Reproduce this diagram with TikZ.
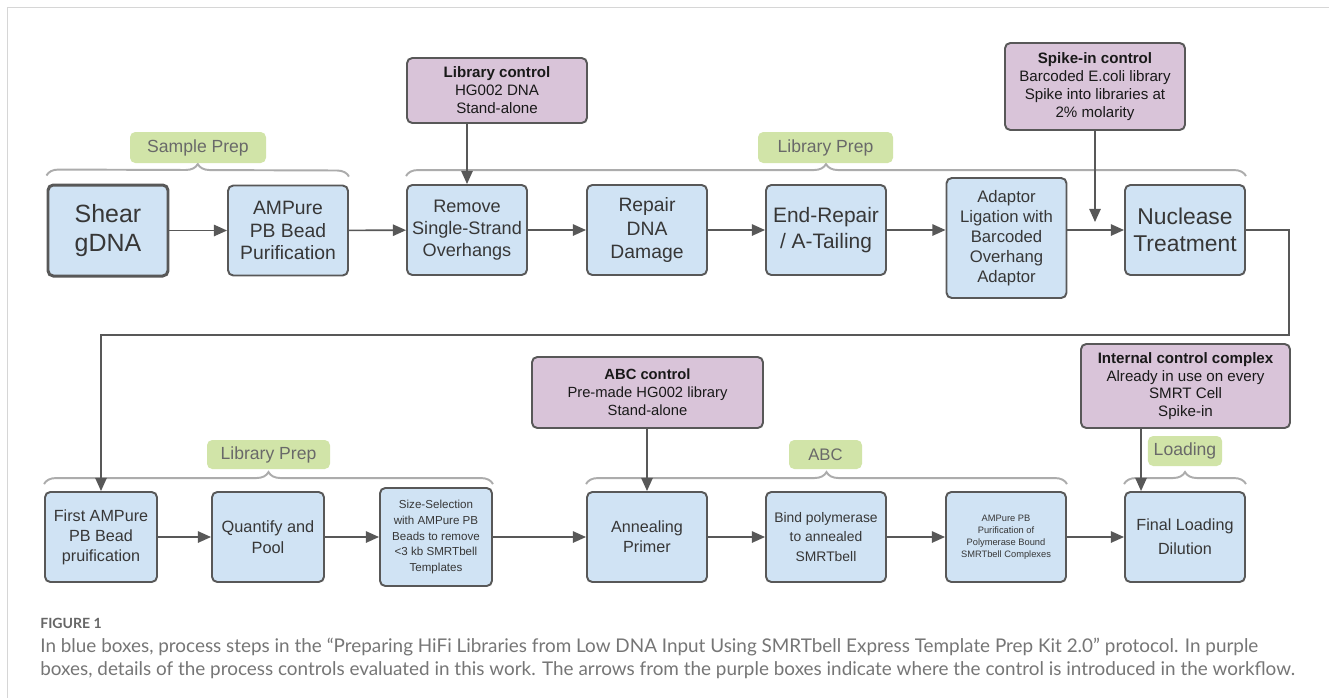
\documentclass[tikz,border=0pt]{standalone}
\usepackage{fontspec}
\setmainfont{Liberation Sans}
\newfontfamily\capfont{Lato}
\usepackage{tikz}
\usetikzlibrary{arrows.meta,positioning,calc,decorations.pathreplacing}
\usepackage{xcolor}
\definecolor{StepBlue}{RGB}{208,227,244}
\definecolor{CtrlPurple}{RGB}{217,196,217}
\definecolor{TagGreen}{RGB}{209,228,168}
\definecolor{EdgeGray}{RGB}{88,88,88}
\definecolor{BraceGray}{RGB}{172,172,172}
\definecolor{InkGray}{RGB}{55,55,55}
\definecolor{TagText}{RGB}{105,105,105}
\definecolor{FrameGray}{RGB}{214,214,214}
\definecolor{CapGray}{RGB}{118,118,118}
\newcommand{\setfs}[2]{\fontsize{#1}{#2}\selectfont}

\begin{document}
\begin{tikzpicture}[
  stepbox/.style={draw=EdgeGray,fill=StepBlue,rounded corners=3pt,line width=1.1pt,
        minimum width=2.4cm,minimum height=1.8cm,align=center,text=InkGray,inner sep=1pt},
  ctrlbox/.style={draw=EdgeGray,fill=CtrlPurple,rounded corners=3pt,line width=1.1pt,
        align=center,text=black!90,inner sep=1pt},
  tagbox/.style={fill=TagGreen,rounded corners=3pt,minimum height=0.62cm,text=TagText,
        font=\setfs{10}{12}},
  grpbrace/.style={draw=BraceGray,line width=1.1pt,decorate,decoration={brace,amplitude=0.24cm}},
  flow/.style={draw=EdgeGray,line width=0.9pt,-{Triangle[length=7.5pt,width=6.5pt]}}]
  \fill[white] (0,0) rectangle (26.58,-13.96);
  \useasboundingbox (0,0) rectangle (26.58,-13.96);
  \draw[FrameGray,line width=1.1pt] (26.58,-0.15) -| (0.15,-13.96);

  % top row of process steps
  \node[stepbox,line width=1.7pt,minimum height=1.82cm,font=\setfs{14.2}{17}] (shear) at (2.16,-4.61) {Shear\\gDNA};
  \node[stepbox,font=\setfs{11}{13}] (ampure) at (5.76,-4.61) {AMPure\\PB Bead\\Purification};
  \node[stepbox,font=\setfs{10.3}{12.5}] (remove) at (9.34,-4.6) {Remove\\Single-Strand\\Overhangs};
  \node[stepbox,font=\setfs{11}{13.6}] (repair) at (12.94,-4.6) {Repair\\DNA\\Damage};
  \node[stepbox,font=\setfs{11.9}{14.7}] (endrep) at (16.52,-4.6) {End-Repair\\/ A-Tailing};
  \node[stepbox,minimum height=2.4cm,font=\setfs{9.5}{11.3}] (adaptor) at (20.13,-4.76)
    {Adaptor\\Ligation with\\Barcoded\\Overhang\\Adaptor};
  \node[stepbox,font=\setfs{13}{15.5}] (nuclease) at (23.7,-4.6) {Nuclease\\Treatment};

  % bottom row of process steps
  \node[stepbox,minimum width=2.24cm,font=\setfs{9.2}{11.3}] (first) at (2.02,-10.74)
    {First AMPure\\PB Bead\\pruification};
  \node[stepbox,minimum width=2.24cm,font=\setfs{9.3}{11.7}] (quant) at (5.36,-10.74) {Quantify and\\Pool};
  \node[stepbox,minimum width=2.24cm,minimum height=1.96cm,font=\setfs{6.6}{9}] (size) at (8.72,-10.74)
    {Size-Selection\\with AMPure PB\\Beads to remove\\<3 kb SMRTbell\\Templates};
  \node[stepbox,font=\setfs{9.2}{11.2}] (anneal) at (12.94,-10.74) {Annealing\\Primer};
  \node[stepbox,font=\setfs{7.9}{11}] (bind) at (16.52,-10.74) {Bind polymerase\\to annealed\\SMRTbell};
  \node[stepbox,font=\setfs{5.3}{6.8}] (ampb) at (20.12,-10.74)
    {AMPure PB\\Purification of\\Polymerase Bound\\SMRTbell Complexes};
  \node[stepbox,font=\setfs{9.2}{13.6}] (final) at (23.7,-10.74) {Final Loading\\Dilution};

  % controls
  \node[ctrlbox,minimum width=3.6cm,minimum height=1.3cm,font=\setfs{8.6}{10.2}] (libctl) at (9.94,-1.81)
    {\textbf{Library control}\\HG002 DNA\\Stand-alone};
  \node[ctrlbox,minimum width=3.6cm,minimum height=1.74cm,font=\setfs{8.6}{10.2}] (spkctl) at (21.9,-1.73)
    {\textbf{Spike-in control}\\Barcoded E.coli library\\Spike into libraries at\\2\% molarity};
  \node[ctrlbox,minimum width=4.62cm,minimum height=1.42cm,font=\setfs{8.4}{10.2}] (abcctl) at (12.95,-7.85)
    {\textbf{ABC control}\\Pre-made HG002 library\\Stand-alone};
  \node[ctrlbox,minimum width=4.18cm,minimum height=1.68cm,font=\setfs{8.6}{10.1}] (intctl) at (23.71,-7.72)
    {\textbf{Internal control complex}\\Already in use on every\\SMRT Cell\\Spike-in};

  % phase braces and tags
  \draw[grpbrace] ([yshift=0.16cm]shear.north west) -- ([yshift=0.16cm]ampure.north east);
  \draw[grpbrace] ([yshift=0.16cm]remove.north west) -- ([yshift=0.16cm]nuclease.north east);
  \draw[grpbrace] ([yshift=0.14cm]first.north west) -- ([yshift=0.14cm]first.north west -| size.north east);
  \draw[grpbrace] ([yshift=0.14cm]anneal.north west) -- ([yshift=0.14cm]ampb.north east);
  \draw[grpbrace] ([yshift=0.14cm]final.north west) -- ([yshift=0.14cm]final.north east);
  \node[tagbox,minimum width=2.72cm] (tsample) at (3.96,-2.95) {Sample Prep};
  \node[tagbox,minimum width=2.7cm] (tlib) at (16.51,-2.95) {Library Prep};
  \node[tagbox,minimum width=2.46cm,minimum height=0.58cm] (tlib2) at (5.37,-9.09) {Library Prep};
  \node[tagbox,minimum width=1.46cm,minimum height=0.58cm,font=\setfs{9.5}{11}] (tabc) at (16.51,-9.09) {ABC};
  \node[tagbox,minimum width=1.48cm,minimum height=0.6cm] (tload) at (23.7,-9.02) {Loading};

  % workflow arrows
  \draw[flow] (shear) -- (ampure);
  \draw[flow] (ampure) -- (remove);
  \draw[flow] (remove) -- (repair);
  \draw[flow] (repair) -- (endrep);
  \draw[flow] (endrep.east) -- (endrep.east -| adaptor.west);
  \draw[flow] (adaptor.east |- nuclease.west) -- (nuclease.west);
  \coordinate (wrap) at (25.78,-6.7);
  \draw[flow] (nuclease.east) -| (wrap) -| (first.north);
  \draw[flow] (first) -- (quant);
  \draw[flow] (quant) -- (size);
  \draw[flow] (size) -- (anneal);
  \draw[flow] (anneal) -- (bind);
  \draw[flow] (bind) -- (ampb);
  \draw[flow] (ampb) -- (final);

  % where the controls come in
  \draw[flow] (libctl.south -| remove.north) -- (remove.north);
  \coordinate (spkin) at (21.9,-4.44);
  \draw[flow] (spkctl.south) -- (spkin);
  \draw[flow] (abcctl.south -| anneal.north) -- (anneal.north);
  \coordinate (intin) at ([xshift=0.34cm]final.north west);
  \draw[flow] (intctl.south -| intin) -- (intin);

  % caption
  \node[anchor=north west,inner sep=0pt,align=left,text=CapGray,font=\capfont\setfs{10.75}{13.6}] (cap) at (0.8,-12.35)
    {{\color{black!60}\bfseries\setfs{8}{10}FIGURE 1}\\
     In blue boxes, process steps in the “Preparing HiFi Libraries from Low DNA Input Using SMRTbell Express Template Prep Kit 2.0” protocol. In purple\\
     boxes, details of the process controls evaluated in this work. The arrows from the purple boxes indicate where the control is introduced in the workflow.};
\end{tikzpicture}
\end{document}
